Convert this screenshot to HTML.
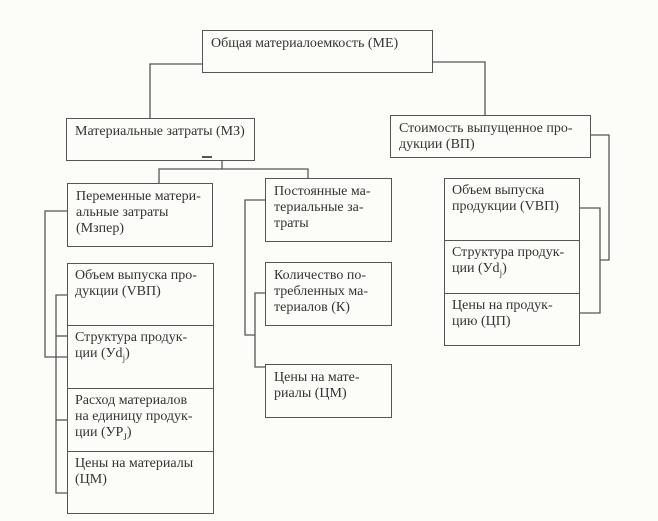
<!DOCTYPE html>
<html><head><meta charset="utf-8"><style>
body{margin:0;background:#fcfcf8;}
#c{position:relative;width:658px;height:521px;overflow:hidden;font-family:"Liberation Serif",serif;font-size:14px;line-height:16px;color:#333;}
.b{position:absolute;border:1.5px solid #555;box-sizing:border-box;padding:5px 0 0 8px;}
.t{position:absolute;padding:5px 0 0 8px;box-sizing:border-box;}
svg{position:absolute;left:0;top:0;}
sub{font-size:9px;line-height:0;}
</style></head><body><div id="c">
<svg width="658" height="521" stroke="#555" stroke-width="1.3" fill="none">
<polyline points="202,64 150,64 150,118"/>
<polyline points="432,62 485,62 485,115"/>
<line x1="202" y1="157" x2="212" y2="157" stroke-width="2"/>
<polyline points="222,161 222,169"/>
<polyline points="159,183 159,169 308,169 308,178"/>
<polyline points="590,135 609,135 609,260 600,260"/>
<polyline points="579,208 600,208 600,313 579,313"/>
<polyline points="67,211 45,211 45,357 67,357"/>
<polyline points="67,295 56,295 56,493 67,493"/>
<line x1="56" y1="336" x2="67" y2="336"/>
<line x1="56" y1="420" x2="67" y2="420"/>
<polyline points="265,200 245,200 245,335 255,335"/>
<polyline points="265,293 255,293 255,367 265,367"/>
</svg>
<div class="b" style="left:202px;top:30px;width:231px;height:43px">Общая материалоемкость (МЕ)</div>
<div class="b" style="left:66px;top:118px;width:189px;height:43px">Материальные затраты (МЗ)</div>
<div class="b" style="left:390px;top:115px;width:201px;height:43px">Стоимость выпущенное про-<br>дукции (ВП)</div>
<div class="b" style="left:67px;top:183px;width:146px;height:64px">Переменные матери-<br>альные затраты<br>(Мзпер)</div>
<div class="b" style="left:265px;top:178px;width:127px;height:64px">Постоянные ма-<br>териальные за-<br>траты</div>
<div class="b" style="left:444px;top:178px;width:136px;height:168px"></div>
<div class="t" style="left:444px;top:178px">Объем выпуска<br>продукции (VВП)</div>
<div style="position:absolute;left:444px;top:240px;width:136px;border-top:1.5px solid #555"></div>
<div class="t" style="left:444px;top:240px">Структура продук-<br>ции (Уd<sub>j</sub>)</div>
<div style="position:absolute;left:444px;top:293px;width:136px;border-top:1.5px solid #555"></div>
<div class="t" style="left:444px;top:293px">Цены на продук-<br>цию (ЦП)</div>
<div class="b" style="left:67px;top:263px;width:147px;height:251px"></div>
<div class="t" style="left:67px;top:263px">Объем выпуска про-<br>дукции (VВП)</div>
<div style="position:absolute;left:67px;top:325px;width:147px;border-top:1.5px solid #555"></div>
<div class="t" style="left:67px;top:325px">Структура продук-<br>ции (Уd<sub>j</sub>)</div>
<div style="position:absolute;left:67px;top:388px;width:147px;border-top:1.5px solid #555"></div>
<div class="t" style="left:67px;top:388px">Расход материалов<br>на единицу продук-<br>ции (УР<sub>J</sub>)</div>
<div style="position:absolute;left:67px;top:451px;width:147px;border-top:1.5px solid #555"></div>
<div class="t" style="left:67px;top:451px">Цены на материалы<br>(ЦМ)</div>
<div class="b" style="left:265px;top:262px;width:127px;height:64px">Количество по-<br>требленных ма-<br>териалов (К)</div>
<div class="b" style="left:265px;top:364px;width:127px;height:54px">Цены на мате-<br>риалы (ЦМ)</div>
</div></body></html>
